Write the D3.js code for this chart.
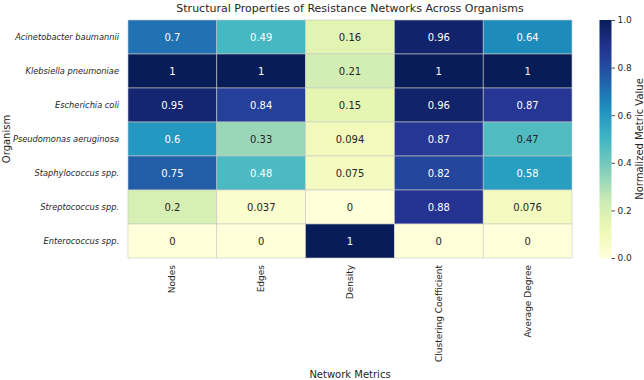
<!DOCTYPE html>
<html><head><meta charset="utf-8">
<script src="https://cdn.jsdelivr.net/npm/d3@7"></script>
<style>
body{margin:0;background:#fff;}
svg{display:block;font-family:"DejaVu Sans",sans-serif;}
</style></head><body>
<svg id="chart" width="644" height="380"></svg>
<script>
const organisms = ["Acinetobacter baumannii","Klebsiella pneumoniae","Escherichia coli","Pseudomonas aeruginosa","Staphylococcus spp.","Streptococcus spp.","Enterococcus spp."];
const metrics = ["Nodes","Edges","Density","Clustering Coefficient","Average Degree"];
const values = [
  [0.7, 0.49, 0.16, 0.96, 0.64],
  [1, 1, 0.21, 1, 1],
  [0.95, 0.84, 0.15, 0.96, 0.87],
  [0.6, 0.33, 0.094, 0.87, 0.47],
  [0.75, 0.48, 0.075, 0.82, 0.58],
  [0.2, 0.037, 0, 0.88, 0.076],
  [0, 0, 1, 0, 0]
];
const labels = [
  ["0.7","0.49","0.16","0.96","0.64"],
  ["1","1","0.21","1","1"],
  ["0.95","0.84","0.15","0.96","0.87"],
  ["0.6","0.33","0.094","0.87","0.47"],
  ["0.75","0.48","0.075","0.82","0.58"],
  ["0.2","0.037","0","0.88","0.076"],
  ["0","0","1","0","0"]
];
const cbarTicks = [0, 0.2, 0.4, 0.6, 0.8, 1.0];
const ylgnbu = ["#ffffd9","#edf8b1","#c7e9b4","#7fcdbb","#41b6c4","#1d91c0","#225ea8","#253494","#081d58"];

const svg = d3.select("#chart");
const mLeft = 128, mRight = 572, mTop = 20, mBottom = 258;
const x = d3.scaleBand().domain(metrics).range([mLeft, mRight]);
const y = d3.scaleBand().domain(organisms).range([mTop, mBottom]);
const color = d3.scaleLinear().domain(d3.range(9).map(i => i/8)).range(ylgnbu).interpolate(d3.interpolateRgb).clamp(true);

function lum(c){
  const rgb = d3.rgb(c);
  const f = v => { v/=255; return v <= 0.03928 ? v/12.92 : Math.pow((v+0.055)/1.055, 2.4); };
  return 0.2126*f(rgb.r) + 0.7152*f(rgb.g) + 0.0722*f(rgb.b);
}

const cells = [];
organisms.forEach((o,i) => metrics.forEach((m,j) => cells.push({o, m, v: values[i][j], t: labels[i][j]})));

svg.append("g").selectAll("rect").data(cells).join("rect")
  .attr("x", d => x(d.m)).attr("y", d => y(d.o))
  .attr("width", x.bandwidth()).attr("height", y.bandwidth())
  .attr("fill", d => color(d.v))
  .attr("stroke", "#c8c8c8").attr("stroke-width", 0.6);

svg.append("g").selectAll("text").data(cells).join("text")
  .attr("x", d => x(d.m) + x.bandwidth()/2)
  .attr("y", d => y(d.o) + y.bandwidth()/2)
  .attr("text-anchor", "middle").attr("dominant-baseline", "central")
  .attr("font-size", 10)
  .attr("fill", d => lum(color(d.v)) > 0.408 ? "#262626" : "#ffffff")
  .text(d => d.t);

// y tick labels
svg.append("g").selectAll("text").data(organisms).join("text")
  .attr("x", mLeft - 9).attr("y", d => y(d) + y.bandwidth()/2)
  .attr("text-anchor", "end").attr("dominant-baseline", "central")
  .attr("font-size", 8.25).attr("font-style", "italic").attr("fill", "#262626")
  .text(d => d);

// x tick labels
svg.append("g").selectAll("text").data(metrics).join("text")
  .attr("transform", d => `translate(${x(d) + x.bandwidth()/2},${mBottom + 7}) rotate(-90)`)
  .attr("text-anchor", "end").attr("dominant-baseline", "central")
  .attr("font-size", 9).attr("fill", "#262626")
  .text(d => d);

// title & axis labels
svg.append("text").attr("x", (mLeft+mRight)/2).attr("y", 12)
  .attr("text-anchor", "middle").attr("font-size", 11).attr("fill", "#262626")
  .text("Structural Properties of Resistance Networks Across Organisms");
svg.append("text").attr("x", (mLeft+mRight)/2).attr("y", 378)
  .attr("text-anchor", "middle").attr("font-size", 10).attr("fill", "#262626")
  .text("Network Metrics");
svg.append("text").attr("transform", `translate(10,${(mTop+mBottom)/2}) rotate(-90)`)
  .attr("text-anchor", "middle").attr("font-size", 10).attr("fill", "#262626")
  .text("Organism");

// colorbar
const cbx = 599.5, cbw = 12;
const cy = d3.scaleLinear().domain([0,1]).range([mBottom, mTop]);
const defs = svg.append("defs");
const grad = defs.append("linearGradient").attr("id","cb").attr("x1",0).attr("y1",1).attr("x2",0).attr("y2",0);
grad.selectAll("stop").data(d3.range(0, 1.0001, 0.05)).join("stop")
  .attr("offset", d => d).attr("stop-color", d => color(d));
svg.append("rect").attr("x", cbx).attr("y", mTop).attr("width", cbw).attr("height", mBottom-mTop).attr("fill", "url(#cb)");
const cax = svg.append("g").attr("transform", `translate(${cbx+cbw},0)`)
  .call(d3.axisRight(cy).tickValues(cbarTicks).tickFormat(d3.format(".1f")).tickSize(3.5).tickPadding(2.5));
cax.select(".domain").remove();
cax.selectAll("line").attr("stroke", "#262626").attr("stroke-width", 0.8);
cax.selectAll("text").attr("font-size", 9).attr("fill", "#262626").attr("font-family", "DejaVu Sans");
svg.append("text").attr("transform", `translate(639,${(mTop+mBottom)/2}) rotate(-90)`)
  .attr("text-anchor", "middle").attr("dominant-baseline", "central").attr("font-size", 10).attr("fill", "#262626")
  .text("Normalized Metric Value");
</script></body></html>
